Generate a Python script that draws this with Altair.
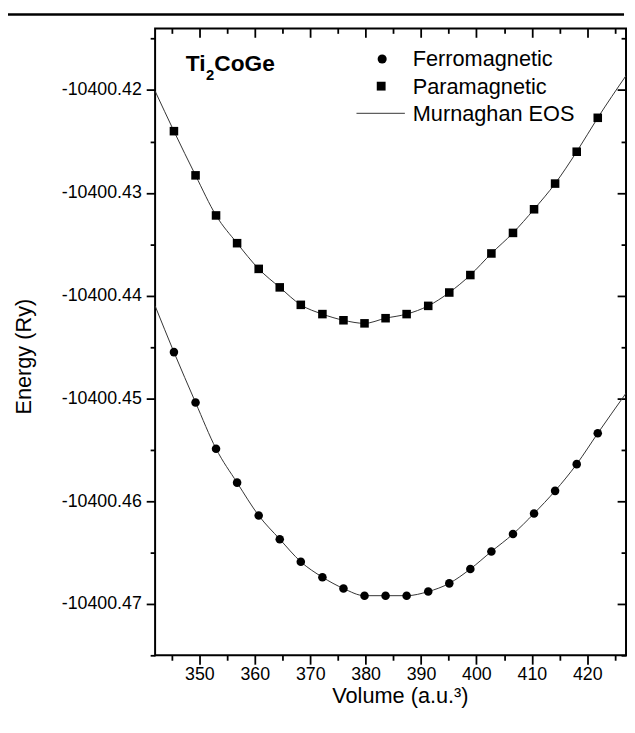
import altair as alt
import pandas as pd

# ---- data ----
volume = [345.4, 349.3, 353.0, 356.8, 360.7, 364.5, 368.3, 372.2, 376.0, 379.8,
          383.6, 387.4, 391.3, 395.1, 398.9, 402.7, 406.6, 410.4, 414.2, 418.1, 421.9]

e_ferro = [-10400.4455, -10400.4504, -10400.4549, -10400.4582, -10400.4614, -10400.4637,
           -10400.4659, -10400.4674, -10400.4685, -10400.4692, -10400.4692, -10400.4692,
           -10400.4688, -10400.4680, -10400.4666, -10400.4649, -10400.4632, -10400.4612,
           -10400.4590, -10400.4564, -10400.4534]

e_para = [-10400.4240, -10400.4283, -10400.4322, -10400.4349, -10400.4374, -10400.4392,
          -10400.4409, -10400.4418, -10400.4424, -10400.4427, -10400.4422, -10400.4418,
          -10400.4410, -10400.4397, -10400.4380, -10400.4359, -10400.4339, -10400.4316,
          -10400.4291, -10400.4260, -10400.4227]

# Murnaghan EOS fitted curves (incl. where they meet the frame)
eos_volume = [342.0] + volume + [427.0]
eos_ferro = [-10400.4410] + e_ferro + [-10400.4495]
eos_para = [-10400.4201] + e_para + [-10400.4186]

x_major = [350, 360, 370, 380, 390, 400, 410, 420]
x_minor = [345, 355, 365, 375, 385, 395, 405, 415, 425]
y_major = [-10400.47, -10400.46, -10400.45, -10400.44, -10400.43, -10400.42]
y_minor = [-10400.475, -10400.465, -10400.455, -10400.445, -10400.435, -10400.425, -10400.415]

legend_labels = ["Ferromagnetic", "Paramagnetic", "Murnaghan EOS"]

X_DOMAIN = [342, 427]
Y_DOMAIN = [-10400.475, -10400.414]
W, H = 477, 635
FONT = "Liberation Sans"

pts_f = pd.DataFrame({"volume": volume, "energy": e_ferro})
pts_p = pd.DataFrame({"volume": volume, "energy": e_para})
eos_f = pd.DataFrame({"volume": eos_volume, "energy": eos_ferro})
eos_p = pd.DataFrame({"volume": eos_volume, "energy": eos_para})
one = pd.DataFrame({"k": [0]})

xs = alt.Scale(domain=X_DOMAIN, nice=False, zero=False)
ys = alt.Scale(domain=Y_DOMAIN, nice=False, zero=False)

common = dict(domain=False, grid=False, tickColor="black", tickWidth=1.8,
              labelFont=FONT, labelColor="black", labelFontSize=18, labelOverlap=False)

ax_bottom = alt.Axis(orient="bottom", values=x_major, tickSize=9, labelPadding=2,
                     title="Volume (a.u.³)", titleFont=FONT, titleFontSize=22,
                     titleFontWeight="normal", titleColor="black", titleX=248, titleY=48,
                     titleBaseline="alphabetic", titleAlign="center", **common)
ax_bottom_minor = alt.Axis(orient="bottom", values=x_minor, tickSize=5, labels=False,
                           title="", **common)
ax_top = alt.Axis(orient="bottom", offset=-H, values=x_major, tickSize=9, labels=False,
                  title="", **common)
ax_top_minor = alt.Axis(orient="bottom", offset=-H, values=x_minor, tickSize=5,
                        labels=False, title="", **common)

ax_left = alt.Axis(orient="left", values=y_major, tickSize=9, labelPadding=5,
                   labelExpr="'-' + format(abs(datum.value), '.2f')",
                   title="Energy (Ry)", titleFont=FONT, titleFontSize=22,
                   titleFontWeight="normal", titleColor="black", titleAngle=270,
                   titleX=-126, titleY=332, titleBaseline="alphabetic",
                   titleAlign="center", **common)
ax_left_minor = alt.Axis(orient="left", values=y_minor, tickSize=5, labels=False,
                         title="", **common)
ax_right = alt.Axis(orient="left", offset=-W, values=y_major, tickSize=9, labels=False,
                    title="", **common)
ax_right_minor = alt.Axis(orient="left", offset=-W, values=y_minor, tickSize=5,
                          labels=False, title="", **common)


def enc(xa, ya):
    return dict(x=alt.X("volume:Q", scale=xs, axis=xa),
                y=alt.Y("energy:Q", scale=ys, axis=ya))


line_f = alt.Chart(eos_f).mark_line(interpolate="monotone", color="#333333",
                                    strokeWidth=1, clip=True).encode(**enc(ax_bottom, ax_left))
line_p = alt.Chart(eos_p).mark_line(interpolate="monotone", color="#333333",
                                    strokeWidth=1, clip=True).encode(**enc(ax_bottom_minor, ax_left_minor))
dots_f = alt.Chart(pts_f).mark_point(shape="circle", filled=True, size=75, color="black",
                                     opacity=1).encode(**enc(ax_top, ax_right))
dots_p = alt.Chart(pts_p).mark_point(shape="square", filled=True, size=75, color="black",
                                     opacity=1).encode(**enc(ax_top_minor, ax_right_minor))


def txt(s, x, y, size, weight="normal"):
    return alt.Chart(one).mark_text(text=s, font=FONT, fontSize=size, fontWeight=weight,
                                    align="left", baseline="alphabetic",
                                    color="black").encode(x=alt.value(x), y=alt.value(y))


title_ti = txt("Ti", 31, 43, 23, "bold")
title_2 = txt("2", 51.5, 52, 15, "bold")
title_coge = txt("CoGe", 60, 43, 23, "bold")

leg_c = alt.Chart(one).mark_point(shape="circle", filled=True, size=85, color="black",
                                  opacity=1).encode(x=alt.value(230), y=alt.value(31))
leg_s = alt.Chart(one).mark_point(shape="square", filled=True, size=80, color="black",
                                  opacity=1).encode(x=alt.value(229), y=alt.value(58.5))
leg_l = alt.Chart(one).mark_rule(color="#333333", strokeWidth=1).encode(
    x=alt.value(204), x2=alt.value(253), y=alt.value(86))
leg_t1 = txt(legend_labels[0], 261, 38.5, 22)
leg_t2 = txt(legend_labels[1], 261, 66, 22)
leg_t3 = txt(legend_labels[2], 261, 93.5, 22)

top_rule = alt.Chart(one).mark_rule(color="black", strokeWidth=2.5).encode(
    x=alt.value(-152), x2=alt.value(475), y=alt.value(-14))

chart = alt.layer(
    line_f, line_p, dots_f, dots_p,
    title_ti, title_2, title_coge,
    leg_c, leg_s, leg_l, leg_t1, leg_t2, leg_t3,
    top_rule,
).resolve_axis(x="independent", y="independent").properties(
    width=W, height=H,
    padding={"left": 149, "top": 16, "right": 1, "bottom": 70},
    autosize=alt.AutoSizeParams(type="none"),
    background="white",
).configure_view(stroke="black", strokeWidth=2)

chart.save("out.html", embed_options={"renderer": "svg", "actions": False})
